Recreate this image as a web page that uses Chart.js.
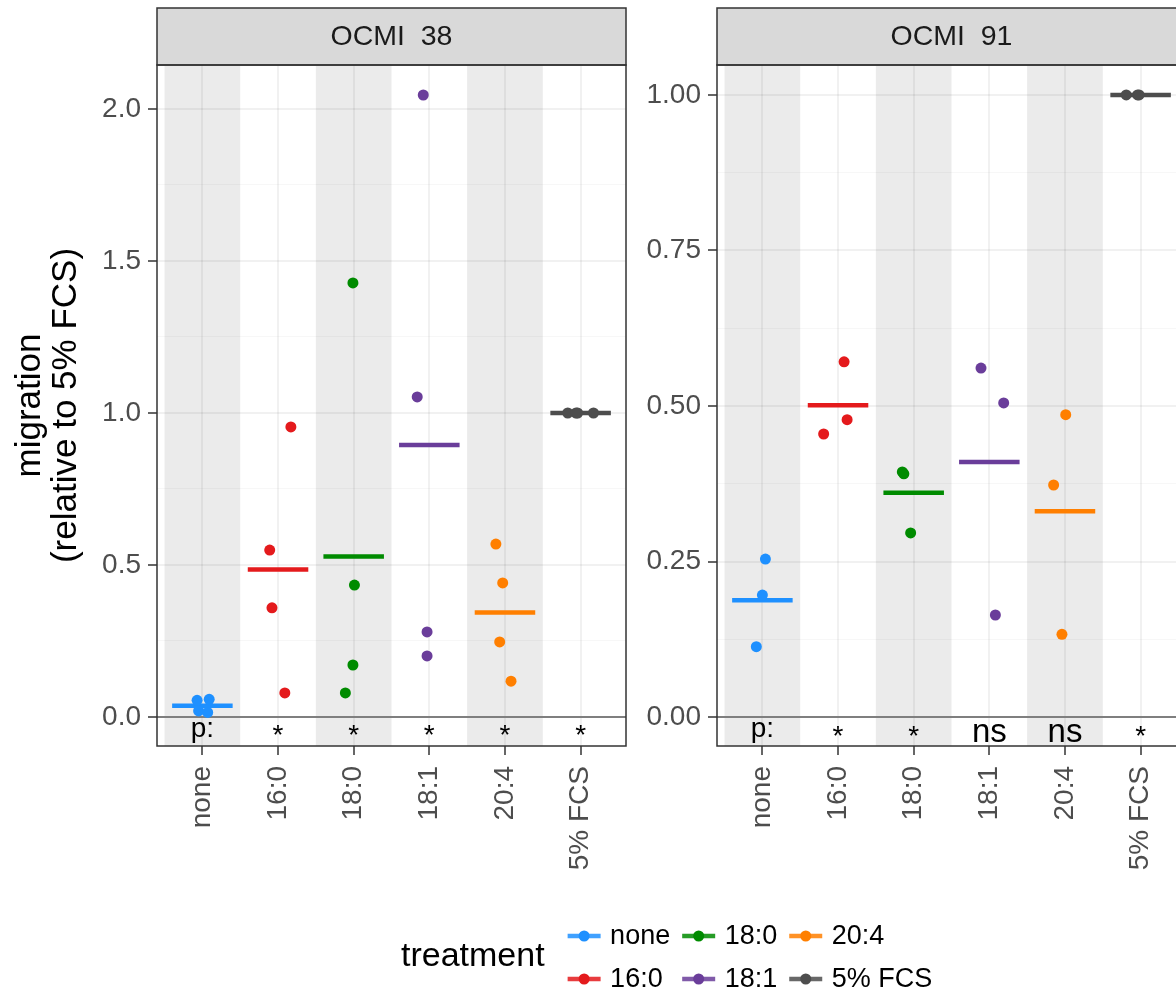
<!DOCTYPE html>
<html>
<head>
<meta charset="utf-8">
<script src="https://cdn.jsdelivr.net/npm/chart.js@4.4.1/dist/chart.umd.min.js"></script>
<style>
  html, body { margin: 0; padding: 0; background: #fff; overflow: hidden; width: 1176px; height: 991px; }
  #c1 { position: absolute; left: 0; top: 0; }
  #c2 { position: absolute; left: 640px; top: 0; }
</style>
</head>
<body>
<canvas id="c1" width="1176" height="991"></canvas>
<canvas id="c2" width="560" height="991"></canvas>
<script>
const categories = ['none', '16:0', '18:0', '18:1', '20:4', '5% FCS'];
const treatmentColors = ['#1E90FF', '#E41A1C', '#008B00', '#6A3D9A', '#FF7F00', '#4D4D4D'];

// OCMI 38 - migration values per treatment, and the horizontal jitter of each dot
const ocmi38Values = [
  [0.055, 0.058, 0.020, 0.015],
  [0.954, 0.549, 0.359, 0.079],
  [1.428, 0.434, 0.171, 0.079],
  [2.046, 1.053, 0.280, 0.201],
  [0.569, 0.441, 0.247, 0.118],
  [1.000, 1.000, 1.000, 1.000]
];
const ocmi38Jitter = [
  [-0.07, 0.09, -0.05, 0.07],
  [0.17, -0.11, -0.08, 0.09],
  [-0.01, 0.01, -0.01, -0.11],
  [-0.08, -0.16, -0.03, -0.03],
  [-0.12, -0.03, -0.07, 0.08],
  [-0.17, -0.06, -0.04, 0.17]
];
const ocmi38Signif = ['p:', '*', '*', '*', '*', '*'];
const ocmi38YTicks = [0, 0.5, 1, 1.5, 2];
const ocmi38YLabels = ['0.0', '0.5', '1.0', '1.5', '2.0'];
const ocmi38YMinor = [0.25, 0.75, 1.25, 1.75];

// OCMI 91
const ocmi91Values = [
  [0.254, 0.196, 0.113],
  [0.571, 0.455, 0.478],
  [0.394, 0.391, 0.296],
  [0.561, 0.505, 0.164],
  [0.486, 0.373, 0.133],
  [1.000, 1.000, 1.000]
];
const ocmi91Jitter = [
  [0.04, 0.0, -0.08],
  [0.08, -0.19, 0.12],
  [-0.15, -0.13, -0.04],
  [-0.11, 0.19, 0.08],
  [0.01, -0.15, -0.04],
  [-0.19, -0.04, -0.02]
];
const ocmi91Signif = ['p:', '*', '*', 'ns', 'ns', '*'];
const ocmi91YTicks = [0, 0.25, 0.5, 0.75, 1];
const ocmi91YLabels = ['0.00', '0.25', '0.50', '0.75', '1.00'];
const ocmi91YMinor = [0.125, 0.375, 0.625, 0.875];

const FONT = '"Liberation Sans", Arial, Helvetica, sans-serif';

function mean(arr) {
  return arr.reduce((a, b) => a + b, 0) / arr.length;
}

function makePanel(canvasId, opt) {
  const datasets = [];
  categories.forEach((cat, i) => {
    datasets.push({
      label: cat,
      data: opt.values[i].map((v, k) => ({ x: i + opt.jitter[i][k], y: v })),
      pointRadius: 5.5,
      pointHoverRadius: 5.5,
      pointBorderWidth: 0,
      pointBackgroundColor: treatmentColors[i],
      showLine: false
    });
    const m = mean(opt.values[i]);
    datasets.push({
      label: cat + ' mean',
      data: [{ x: i - 0.4, y: m }, { x: i + 0.4, y: m }],
      showLine: true,
      borderColor: treatmentColors[i],
      borderWidth: 4.5,
      pointRadius: 0,
      borderCapStyle: 'butt'
    });
  });

  const isMinor = v => opt.yTicks.indexOf(v) < 0;

  const panelPlugin = {
    id: 'panel_' + canvasId,
    beforeDraw(chart) {
      const { ctx, chartArea: a, scales: { x } } = chart;
      ctx.save();
      ctx.fillStyle = '#EBEBEB';
      categories.forEach((c, i) => {
        if (i % 2 === 0) {
          const l = x.getPixelForValue(i - 0.5), r = x.getPixelForValue(i + 0.5);
          ctx.fillRect(l, a.top, r - l, a.bottom - a.top);
        }
      });
      ctx.restore();
    },
    beforeDatasetsDraw(chart) {
      const { ctx, chartArea: a, scales: { y } } = chart;
      const y0 = y.getPixelForValue(0);
      ctx.save();
      ctx.strokeStyle = '#7F7F7F';
      ctx.lineWidth = 2;
      ctx.beginPath();
      ctx.moveTo(a.left, y0);
      ctx.lineTo(a.right, y0);
      ctx.stroke();
      ctx.restore();
    },
    afterDatasetsDraw(chart) {
      const { ctx, chartArea: a, scales: { x, y } } = chart;
      const yc = (y.getPixelForValue(0) + a.bottom) / 2 + 1;
      ctx.save();
      ctx.fillStyle = '#000';
      ctx.textAlign = 'center';
      ctx.textBaseline = 'alphabetic';
      opt.signif.forEach((t, i) => {
        ctx.font = (t === 'ns' ? 33 : 28) + 'px ' + FONT;
        const m = ctx.measureText(t);
        const off = (m.actualBoundingBoxAscent - m.actualBoundingBoxDescent) / 2;
        ctx.fillText(t, x.getPixelForValue(i), yc + off - (t === '*' ? 2 : 0));
      });
      ctx.restore();
    },
    afterDraw(chart) {
      const { ctx, chartArea: a } = chart;
      ctx.save();
      // strip
      ctx.fillStyle = '#D9D9D9';
      ctx.fillRect(a.left, 8, a.right - a.left, a.top - 8);
      ctx.strokeStyle = '#333333';
      ctx.lineWidth = 1.5;
      ctx.strokeRect(a.left, 8, a.right - a.left, a.top - 8);
      ctx.fillStyle = '#1A1A1A';
      ctx.font = '28.5px ' + FONT;
      ctx.textAlign = 'center';
      ctx.textBaseline = 'middle';
      ctx.fillText(opt.strip, (a.left + a.right) / 2, (8 + a.top) / 2 + 1);
      // panel border
      ctx.strokeRect(a.left, a.top, a.right - a.left, a.bottom - a.top);
      ctx.restore();
    }
  };

  const plugins = [panelPlugin];
  if (opt.legend) plugins.push(legendPlugin);

  return new Chart(document.getElementById(canvasId), {
    type: 'scatter',
    data: { datasets },
    options: {
      responsive: false,
      animation: false,
      events: [],
      layout: { padding: { left: 0, right: opt.padRight, top: 65, bottom: 0 } },
      plugins: { legend: { display: false }, tooltip: { enabled: false } },
      scales: {
        x: {
          type: 'linear',
          min: -0.6,
          max: 5.6,
          afterBuildTicks: s => { s.ticks = categories.map((c, i) => ({ value: i })); },
          afterFit: s => { s.height = 991 - 746; },
          ticks: {
            callback: v => categories[v],
            autoSkip: false,
            minRotation: 90,
            maxRotation: 90,
            padding: 11,
            color: '#4D4D4D',
            font: { family: FONT, size: 28 }
          },
          grid: {
            color: 'rgba(0,0,0,0.055)',
            lineWidth: 2,
            tickLength: 9,
            tickColor: '#333333',
            tickWidth: 1.5
          },
          border: { display: false }
        },
        y: {
          type: 'linear',
          min: opt.yMin,
          max: opt.yMax,
          afterBuildTicks: s => {
            s.ticks = opt.yTicks.concat(opt.yMinor).sort((a, b) => a - b).map(v => ({ value: v }));
          },
          afterFit: s => { s.width = opt.axisWidth; },
          ticks: {
            callback: v => isMinor(v) ? '' : opt.yLabels[opt.yTicks.indexOf(v)],
            padding: 7,
            color: '#4D4D4D',
            font: { family: FONT, size: 28 }
          },
          grid: {
            color: c => isMinor(c.tick.value) ? 'rgba(0,0,0,0.03)' : 'rgba(0,0,0,0.055)',
            lineWidth: c => isMinor(c.tick.value) ? 1 : 2,
            tickLength: 9,
            tickColor: c => isMinor(c.tick.value) ? 'rgba(0,0,0,0)' : '#333333',
            tickWidth: 1.5
          },
          border: { display: false },
          title: {
            display: opt.yTitle,
            text: ['migration', '(relative to 5% FCS)'],
            color: '#000',
            font: { family: FONT, size: 35, lineHeight: 1.03 },
            padding: { top: 12, bottom: 0 }
          }
        }
      }
    },
    plugins
  });
}

// legend under both panels
const legendPlugin = {
  id: 'treatmentLegend',
  afterDraw(chart) {
    const ctx = chart.ctx;
    ctx.save();
    ctx.fillStyle = '#000';
    ctx.textBaseline = 'middle';
    ctx.textAlign = 'left';
    ctx.font = '34px ' + FONT;
    ctx.fillText('treatment', 401, 957);
    let x = 401 + ctx.measureText('treatment').width + 23;
    ctx.font = '27px ' + FONT;
    const rows = [936, 979];
    for (let col = 0; col < 3; col++) {
      let maxW = 0;
      for (let r = 0; r < 2; r++) {
        const i = col * 2 + r;
        const y = rows[r];
        ctx.globalAlpha = 0.85;
        ctx.strokeStyle = treatmentColors[i];
        ctx.lineWidth = 4.5;
        ctx.beginPath();
        ctx.moveTo(x, y);
        ctx.lineTo(x + 33, y);
        ctx.stroke();
        ctx.globalAlpha = 1;
        ctx.fillStyle = treatmentColors[i];
        ctx.beginPath();
        ctx.arc(x + 16.5, y, 5.5, 0, Math.PI * 2);
        ctx.fill();
        ctx.fillStyle = '#000';
        ctx.fillText(categories[i], x + 42.5, y + 1);
        maxW = Math.max(maxW, ctx.measureText(categories[i]).width);
      }
      x = x + 42.5 + maxW + 12;
    }
    ctx.restore();
  }
};

makePanel('c1', {
  values: ocmi38Values, jitter: ocmi38Jitter, signif: ocmi38Signif,
  yTicks: ocmi38YTicks, yLabels: ocmi38YLabels, yMinor: ocmi38YMinor,
  yMin: -0.0954, yMax: 2.1447,
  strip: 'OCMI  38', axisWidth: 157, padRight: 1176 - 626, yTitle: true, legend: true
});

makePanel('c2', {
  values: ocmi91Values, jitter: ocmi91Jitter, signif: ocmi91Signif,
  yTicks: ocmi91YTicks, yLabels: ocmi91YLabels, yMinor: ocmi91YMinor,
  yMin: -0.0466, yMax: 1.0482,
  strip: 'OCMI  91', axisWidth: 77, padRight: 14, yTitle: false, legend: false
});
</script>
</body>
</html>
